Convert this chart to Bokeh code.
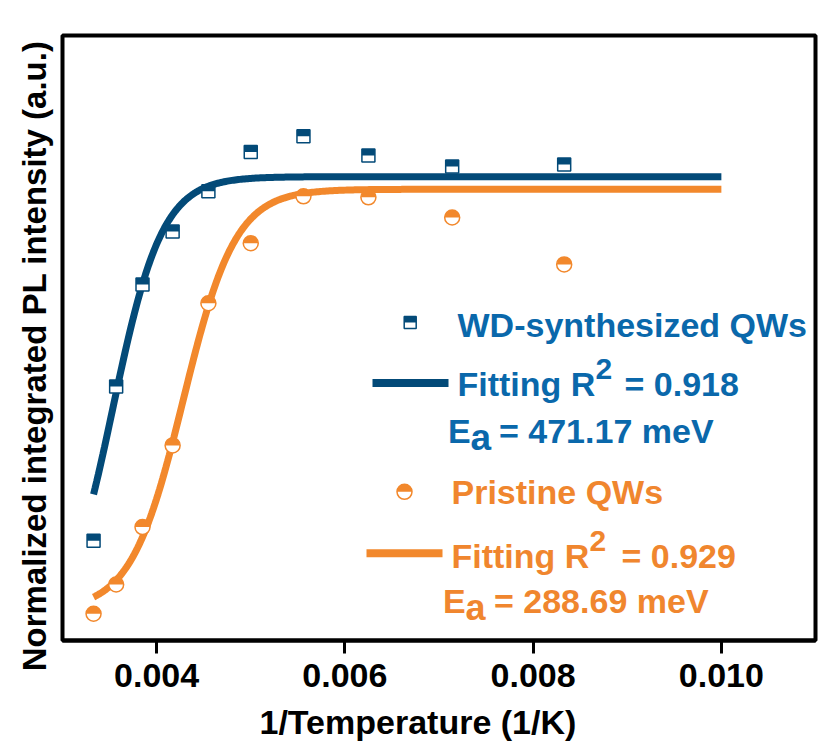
import numpy as np
from bokeh.plotting import figure
from bokeh.models import Label, FixedTicker, Title
from bokeh.embed import file_html
from bokeh.resources import INLINE

# Inverse temperature (1/K) and normalized integrated PL intensity
inv_temp = [0.00333, 0.00357, 0.00385, 0.00417, 0.00455, 0.00500, 0.00556, 0.00625, 0.00714, 0.00833]
wd_intensity = [0.198, 0.504, 0.706, 0.811, 0.891, 0.969, 1.000, 0.962, 0.940, 0.944]
pristine_intensity = [0.053, 0.111, 0.225, 0.387, 0.669, 0.788, 0.881, 0.879, 0.839, 0.746]

x_ticks = [0.004, 0.006, 0.008, 0.010]
x_tick_labels = ["0.004", "0.006", "0.008", "0.010"]

# Arrhenius-type fit: I = base + (i0 - base) / (1 + C * exp(-rate * x))
wd_fit = dict(i0=0.92, base=0.0, rate=3800.0, log_c=13.43)
pristine_fit = dict(i0=0.895, base=0.06, rate=3600.0, log_c=15.42)
fit_range = (0.00333, 0.010)

wd_label = "WD-synthesized QWs"
pristine_label = "Pristine QWs"
wd_r2, wd_ea = "0.918", "471.17"
pristine_r2, pristine_ea = "0.929", "288.69"
x_title = "1/Temperature (1/K)"
y_title = "Normalized integrated PL intensity (a.u.)"

BLUE_LINE = "#034A78"
BLUE_TEXT = "#0A68AB"
ORANGE_LINE = "#F2882C"
ORANGE_TEXT = "#F0862E"
FONT = "Liberation Sans"

W, H = 818, 751
FL, FR, FT, FB = 62, 815, 35, 640
X_RANGE = (0.003, 0.011)
Y_RANGE = (0.0, 1.2)
TEXT_SHIFT = 10  # label baseline correction in pixels


def dx(px):
    return X_RANGE[0] + (px - FL) / (FR - FL) * (X_RANGE[1] - X_RANGE[0])


def dy(py):
    return Y_RANGE[0] + (FB - py) / (FB - FT) * (Y_RANGE[1] - Y_RANGE[0])


def px_to_dy(n):
    return n / (FB - FT) * (Y_RANGE[1] - Y_RANGE[0])


def fit_curve(par):
    xs = np.linspace(fit_range[0], fit_range[1], 400)
    ys = par["base"] + (par["i0"] - par["base"]) / (1.0 + np.exp(par["log_c"] - par["rate"] * xs))
    return xs, ys


p = figure(width=W, height=H, x_range=X_RANGE, y_range=Y_RANGE,
           min_border_left=FL, min_border_right=W - FR, min_border_top=FT,
           min_border_bottom=H - FB, output_backend="svg", toolbar_location=None)
p.background_fill_color = "white"
p.border_fill_color = "white"
p.grid.visible = False
p.outline_line_color = "black"
p.outline_line_width = 4
p.yaxis.visible = False

ax = p.xaxis[0]
ax.ticker = FixedTicker(ticks=x_ticks)
ax.major_label_overrides = {t: s for t, s in zip(x_ticks, x_tick_labels)}
ax.axis_line_width = 4
ax.major_tick_line_width = 3
ax.major_tick_out = 13
ax.major_tick_in = 0
ax.minor_tick_line_color = None
ax.major_label_text_font = FONT
ax.major_label_text_font_style = "bold"
ax.major_label_text_font_size = "34px"
ax.major_label_text_color = "black"
ax.major_label_standoff = 10

# axis titles
p.add_layout(Title(text=x_title, align="left", offset=197, text_font=FONT,
                   text_font_style="bold", text_font_size="34px", text_color="black",
                   standoff=22), "below")
p.add_layout(Title(text=y_title, align="right", offset=5, text_font=FONT,
                   text_font_style="bold", text_font_size="33px", text_color="black",
                   standoff=20), "left")

# fitted curves
xs, ys = fit_curve(wd_fit)
p.line(xs, ys, line_color=BLUE_LINE, line_width=7)
xs, ys = fit_curve(pristine_fit)
p.line(xs, ys, line_color=ORANGE_LINE, line_width=7)

# half-filled square markers (top half filled)
sq = 13
p.scatter(inv_temp, wd_intensity, marker="square", size=sq, fill_color="white",
          line_color=BLUE_LINE, line_width=1.5)
p.rect(x=inv_temp, y=[v + px_to_dy(sq / 4) for v in wd_intensity], width=sq, height=sq / 2,
       width_units="screen", height_units="screen", fill_color=BLUE_LINE, line_color=None)

# half-filled circle markers (top half filled)
cd = 15
p.scatter(inv_temp, pristine_intensity, marker="circle", size=cd, fill_color="white",
          line_color=ORANGE_LINE, line_width=1.5)
p.wedge(x=inv_temp, y=pristine_intensity, radius=cd / 2, radius_units="screen",
        start_angle=0, end_angle=np.pi, fill_color=ORANGE_LINE, line_color=None)

# legend block
lsq = 12
p.scatter([dx(409.7)], [dy(322)], marker="square", size=lsq, fill_color="white",
          line_color=BLUE_LINE, line_width=1.5)
p.rect([dx(409.7)], [dy(322 - lsq / 4)], width=lsq, height=lsq / 2, width_units="screen",
       height_units="screen", fill_color=BLUE_LINE, line_color=None)
p.line([dx(372), dx(448)], [dy(382.5)] * 2, line_color=BLUE_LINE, line_width=8, line_cap="butt")

lcd = 15
p.scatter([dx(404)], [dy(491.3)], marker="circle", size=lcd, fill_color="white",
          line_color=ORANGE_LINE, line_width=1.5)
p.wedge([dx(404)], [dy(491.3)], radius=lcd / 2, radius_units="screen", start_angle=0,
        end_angle=np.pi, fill_color=ORANGE_LINE, line_color=None)
p.line([dx(366), dx(442)], [dy(552.8)] * 2, line_color=ORANGE_LINE, line_width=8, line_cap="butt")


def put(text, px, py, size, color):
    p.add_layout(Label(x=dx(px), y=dy(py - TEXT_SHIFT), text=text, text_font=FONT,
                       text_font_style="bold", text_font_size=f"{size}px", text_color=color,
                       text_align="left", text_baseline="alphabetic"))


put(wd_label, 457, 334, 34, BLUE_TEXT)
put("Fitting R", 457, 393, 34, BLUE_TEXT)
put("2", 595, 378, 30, BLUE_TEXT)
put("= " + wd_r2, 624, 393, 34, BLUE_TEXT)
put("E", 447.5, 440.7, 34, BLUE_TEXT)
put("a", 470, 447, 37, BLUE_TEXT)
put("= " + wd_ea + " meV", 498.5, 440.7, 34, BLUE_TEXT)

put(pristine_label, 451, 501.7, 34, ORANGE_TEXT)
put("Fitting R", 451, 565, 34, ORANGE_TEXT)
put("2", 589, 550, 30, ORANGE_TEXT)
put("= " + pristine_r2, 621, 565, 34, ORANGE_TEXT)
put("E", 442.5, 610, 34, ORANGE_TEXT)
put("a", 465, 617, 36, ORANGE_TEXT)
put("= " + pristine_ea + " meV", 493.5, 610, 34, ORANGE_TEXT)

open("out.html", "w").write(file_html(p, INLINE))
